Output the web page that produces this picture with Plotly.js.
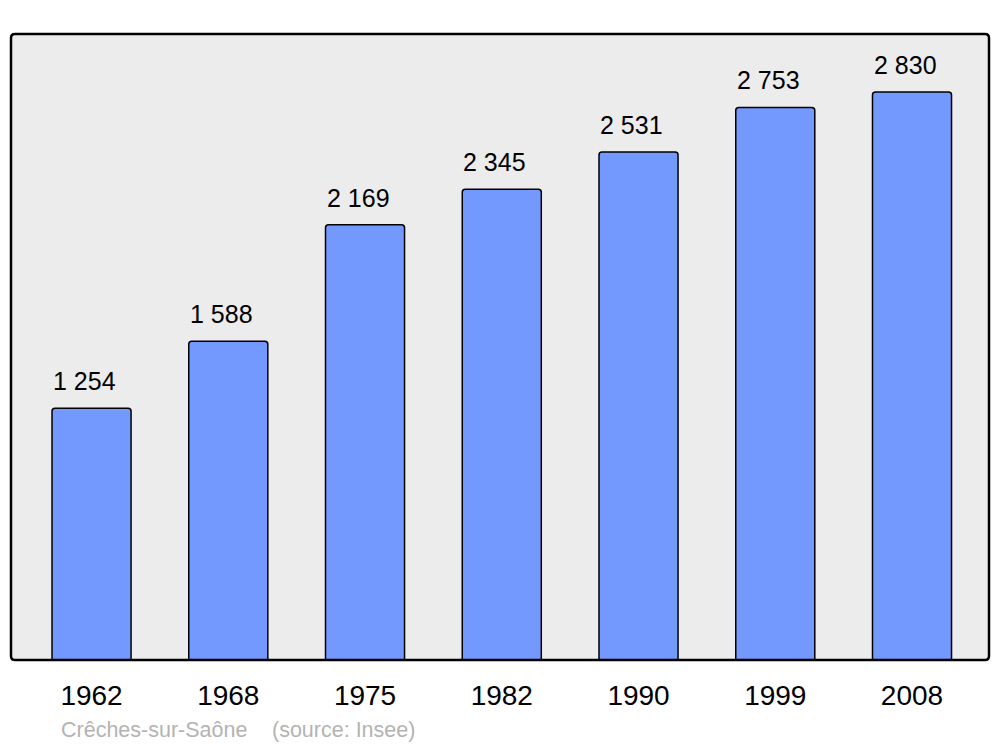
<!DOCTYPE html>
<html><head><meta charset="utf-8">
<script src="https://cdn.plot.ly/plotly-3.0.1.min.js"></script>
<style>html,body{margin:0;padding:0;background:#fff}</style>
</head><body><div id="c" style="width:1000px;height:747px"></div>
<script>
const years = ["1962","1968","1975","1982","1990","1999","2008"];
const population = [1254,1588,2169,2345,2531,2753,2830];
const labels = ["1 254","1 588","2 169","2 345","2 531","2 753","2 830"];
const sourceName = "Crêches-sur-Saône";
const sourceRef = "(source: Insee)";

const W=1000,H=747,ml=11,mr=11,mt=34,mb=87;
const pw=W-ml-mr, ph=H-mt-mb;
const rx=4/pw, ry=4/ph;
const framePath = `M ${rx},0 L ${1-rx},0 Q 1,0 1,${ry} L 1,${1-ry} Q 1,1 ${1-rx},1 L ${rx},1 Q 0,1 0,${1-ry} L 0,${ry} Q 0,0 ${rx},0 Z`;
const font='Liberation Sans, Arial, sans-serif';

const data=[{
  type:'bar', x:years, y:population,
  marker:{color:'#7399ff', line:{color:'#000', width:1.5}},
  hoverinfo:'none'
}];
const annotations = years.map((y,i)=>({
  x:i, y:population[i], xref:'x', yref:'y', text:labels[i],
  showarrow:false, yanchor:'bottom', yshift:11, xshift:-7,
  font:{family:font, size:25, color:'#000'}
}));
annotations.push({
  xref:'paper', yref:'paper', x:(59-ml)/pw, y:-(730-660)/ph, xanchor:'left', yanchor:'middle',
  text:sourceName, showarrow:false, font:{family:font, size:21.5, color:'#b3b3b3'}
});
annotations.push({
  xref:'paper', yref:'paper', x:(270-ml)/pw, y:-(730-660)/ph, xanchor:'left', yanchor:'middle',
  text:sourceRef, showarrow:false, font:{family:font, size:21.5, color:'#b3b3b3'}
});
const layout={
  width:W, height:H, margin:{l:ml,r:mr,t:mt,b:mb,pad:0},
  paper_bgcolor:'#fff', plot_bgcolor:'rgba(0,0,0,0)',
  showlegend:false, bargap:0.422, barcornerradius:3,
  xaxis:{type:'category', range:[-0.589,6.563], showgrid:false, zeroline:false, showline:false,
    ticks:'', tickfont:{family:font, size:28, color:'#000'}, ticklabelstandoff:16, fixedrange:true},
  yaxis:{range:[0,3119], showgrid:false, zeroline:false, showline:false, showticklabels:false, ticks:'', fixedrange:true},
  shapes:[
    {type:'path', xref:'paper', yref:'paper', path:framePath, fillcolor:'#ececec', line:{width:0}, layer:'below'},
    {type:'path', xref:'paper', yref:'paper', path:framePath, fillcolor:'rgba(0,0,0,0)', line:{color:'#000', width:2.5}, layer:'above'}
  ],
  annotations:annotations
};
Plotly.newPlot('c', data, layout, {staticPlot:true, displayModeBar:false});
</script></body></html>
